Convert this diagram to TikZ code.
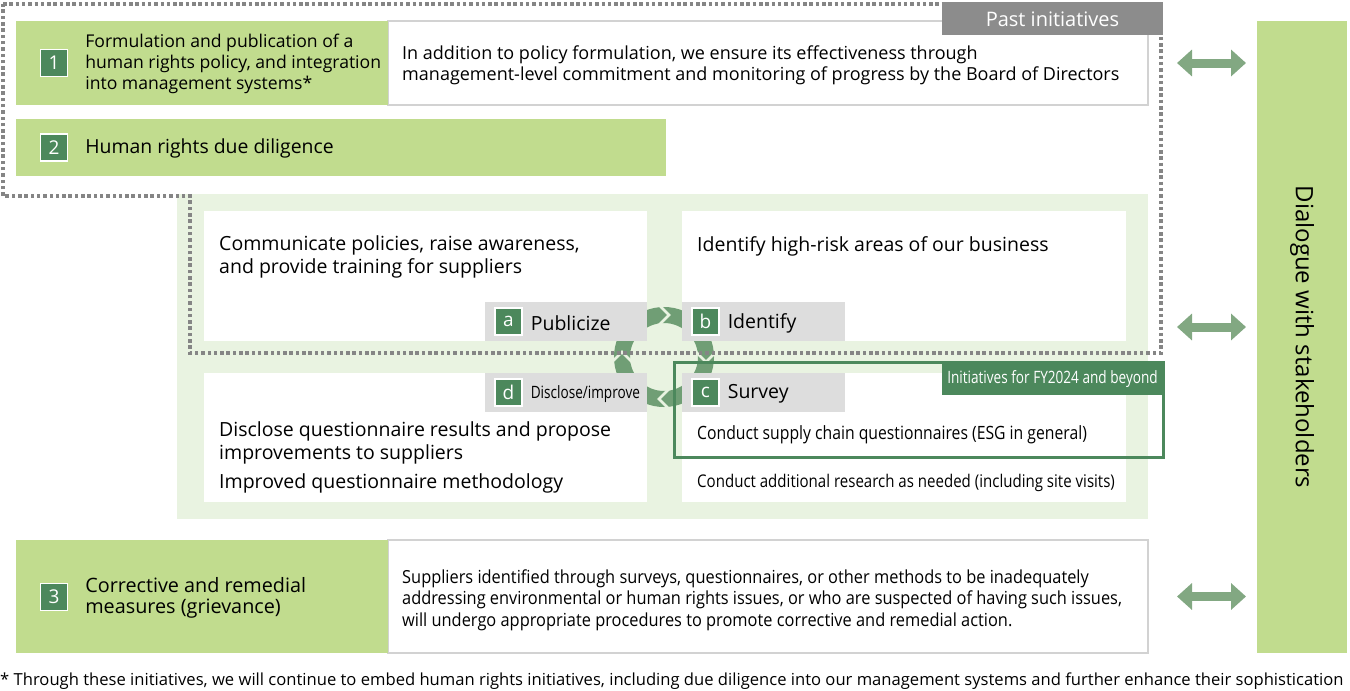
\documentclass[tikz,border=0pt]{standalone}
\usepackage{fontspec}
\setmainfont{Open Sans}
\newfontfamily\narrowfont[FakeStretch=0.8]{Open Sans}
\newfontfamily\midfont[FakeStretch=0.86]{Open Sans}
\newfontfamily\wideNarrowfont[FakeStretch=0.91]{Open Sans}
\usetikzlibrary{arrows.meta,positioning}

\definecolor{leaf}{RGB}{193,220,142}
\definecolor{pine}{RGB}{76,136,92}
\definecolor{mist}{RGB}{233,243,225}
\definecolor{stone}{RGB}{221,221,221}
\definecolor{ash}{RGB}{140,140,140}
\definecolor{rim}{RGB}{210,210,210}
\definecolor{sage}{RGB}{130,168,130}
\definecolor{loopgreen}{RGB}{112,158,117}

\begin{document}
\begin{tikzpicture}[x=1pt,y=-1pt,font=\fontsize{18}{21}\selectfont]
  \tikzstyle{block}=[anchor=north west,inner sep=0pt,outer sep=0pt]
  \tikzstyle{greenbox}=[block,fill=leaf]
  \tikzstyle{whitebox}=[block,fill=white,draw=rim,line width=2pt]
  \tikzstyle{tagbox}=[block,fill=stone]
  \tikzstyle{badge}=[fill=pine,draw=white,line width=1.2pt,text=white,minimum size=27pt,inner sep=0pt,font=\fontsize{19}{19}\selectfont]
  \tikzstyle{txt}=[inner sep=0pt,anchor=west,align=left]
  \tikzstyle{tagtxt}=[inner sep=0pt,anchor=west,font=\fontsize{19.5}{19.5}\selectfont]
  \tikzstyle{talk}=[{Triangle[width=26pt,length=15pt]}-{Triangle[width=26pt,length=15pt]},line width=9pt,draw=sage]
  \tikzstyle{chev}=[draw=mist,line width=2.5pt]

  \useasboundingbox (0,0) rectangle (1350,691);

  % rows 1 and 2
  \node[whitebox,minimum width=760pt,minimum height=84pt] (w1) at (388,21) {};
  \node[greenbox,minimum width=372pt,minimum height=84pt] (g1) at (16,21) {};
  \node[badge] (n1) at (54,63) {1};
  \node[txt,font=\fontsize{17.6}{21}\selectfont] (t1) [right=17pt of n1,yshift=-1pt] {Formulation and publication of a\\human rights policy, and integration\\into management systems*};
  \node[txt] (t1w) [right=14pt of g1,yshift=-2.5pt] {In addition to policy formulation, we ensure its effectiveness through\\management-level commitment and monitoring of progress by the Board of Directors};

  \node[greenbox,minimum width=650pt,minimum height=57pt] (g2) at (16,119) {};
  \node[badge] (n2) at (54,147.5) {2};
  \node[txt,font=\fontsize{19.4}{22}\selectfont] (t2) [right=17pt of n2,yshift=-1pt] {Human rights due diligence};

  % due diligence cycle
  \node[block,fill=mist,minimum width=971pt,minimum height=325pt] (pan) at (177,194) {};
  \node[block,fill=white,minimum width=443pt,minimum height=130pt] (wa) at (204,211) {};
  \node[block,fill=white,minimum width=444pt,minimum height=130pt] (wb) at (682,211) {};
  \node[block,fill=white,minimum width=443pt,minimum height=129pt] (wd) at (204,373) {};
  \node[block,fill=white,minimum width=444pt,minimum height=129pt] (wc) at (682,373) {};

  \draw[loopgreen,line width=16pt] (664,357) circle[radius=42];
  \draw[chev] (659,305) -- (669,315) -- (659,325);
  \draw[chev] (696,352) -- (706,362) -- (716,352);
  \draw[chev] (669,389) -- (659,399) -- (669,409);
  \draw[chev] (612,362) -- (622,352) -- (632,362);

  \node[tagbox,minimum width=162pt,minimum height=39pt] (la) at (485,302) {};
  \node[tagbox,minimum width=163pt,minimum height=39pt] (lb) at (682,302) {};
  \node[tagbox,minimum width=162pt,minimum height=39pt] (ld) at (485,373) {};
  \node[tagbox,minimum width=163pt,minimum height=39pt] (lc) at (682,373) {};
  \node[badge] (na) at (508.5,321.5) {a};
  \node[badge] (nb) at (705.5,321.5) {b};
  \node[badge] (nd) at (508.5,392.5) {d};
  \node[badge] (nc) at (705.5,392.5) {c};
  \node[tagtxt] (ta) [right=8pt of na,yshift=-1.5pt] {Publicize};
  \node[tagtxt] (tb) [right=8pt of nb,yshift=-1.5pt] {Identify};
  \node[tagtxt,font=\narrowfont\fontsize{17}{17}\selectfont] (td) [right=8pt of nd,yshift=-1.5pt] {Disclose/improve};
  \node[tagtxt] (tc) [right=8pt of nc,yshift=-1.5pt] {Survey};

  \node[txt,font=\fontsize{19.5}{23}\selectfont] (xa) at (219,257) {Communicate policies, raise awareness,\\and provide training for suppliers};
  \node[txt,font=\fontsize{19.5}{23}\selectfont] (xb) at (697,246) {Identify high-risk areas of our business};
  \node[txt,font=\fontsize{19.5}{23}\selectfont] (xd) at (219,457) {Disclose questionnaire results and propose\\improvements to suppliers\\[6pt]Improved questionnaire methodology};
  \node[txt,font=\midfont\fontsize{18.3}{21}\selectfont] (xc1) at (697,435) {Conduct supply chain questionnaires (ESG in general)};
  \node[txt,font=\midfont\fontsize{17.5}{21}\selectfont] (xc2) at (697,483) {Conduct additional research as needed (including site visits)};

  % past / new frames
  \draw[ash!95!black,line width=3.5pt,dash pattern=on 3.5pt off 2.8pt] (3,4) -- (1161,4) -- (1161,353) -- (190,353) -- (190,196) -- (3,196) -- cycle;
  \node[block,fill=ash,minimum width=221pt,minimum height=33pt] (past) at (942,2) {};
  \node[text=white,font=\fontsize{20}{20}\selectfont,inner sep=0pt,yshift=-1pt] at (past.center) {Past initiatives};
  \draw[pine,line width=3pt] (674,362) rectangle (1163,457);
  \node[block,fill=pine,minimum width=221pt,minimum height=33pt] (new) at (942,362) {};
  \node[text=white,font=\narrowfont\fontsize{17}{17}\selectfont,inner sep=0pt,yshift=-1pt] at (new.center) {Initiatives for FY2024 and beyond};

  % row 3
  \node[whitebox,minimum width=760pt,minimum height=113pt] (w3) at (388,540) {};
  \node[greenbox,minimum width=372pt,minimum height=113pt] (g3) at (16,540) {};
  \node[badge] (n3) at (54,597) {3};
  \node[txt,font=\fontsize{19.8}{21}\selectfont] (t3) [right=17pt of n3,yshift=-1pt] {Corrective and remedial\\measures (grievance)};
  \node[txt,font=\wideNarrowfont\fontsize{18}{21.5}\selectfont] (t3w) at (402,600) {Suppliers identified through surveys, questionnaires, or other methods to be inadequately\\addressing environmental or human rights issues, or who are suspected of having such issues,\\will undergo appropriate procedures to promote corrective and remedial action.};

  % stakeholders
  \node[greenbox,minimum width=90pt,minimum height=632pt] (dlg) at (1257,21) {};
  \node[rotate=-90,font=\fontsize{24}{24}\selectfont,inner sep=0pt] at (1302,337) {Dialogue with stakeholders};
  \coordinate (mid) at (1148,327);
  \draw[talk,shorten <=29pt,shorten >=11pt] (w1.east) -- (w1.east -| dlg.west);
  \draw[talk,shorten <=29pt,shorten >=11pt] (mid) -- (mid -| dlg.west);
  \draw[talk,shorten <=29pt,shorten >=11pt] (w3.east) -- (w3.east -| dlg.west);

  \node[anchor=west,inner sep=0pt,font=\fontsize{16.6}{18}\selectfont] (foot) at (0,681) {* Through these initiatives, we will continue to embed human rights initiatives, including due diligence into our management systems and further enhance their sophistication};
\end{tikzpicture}
\end{document}
